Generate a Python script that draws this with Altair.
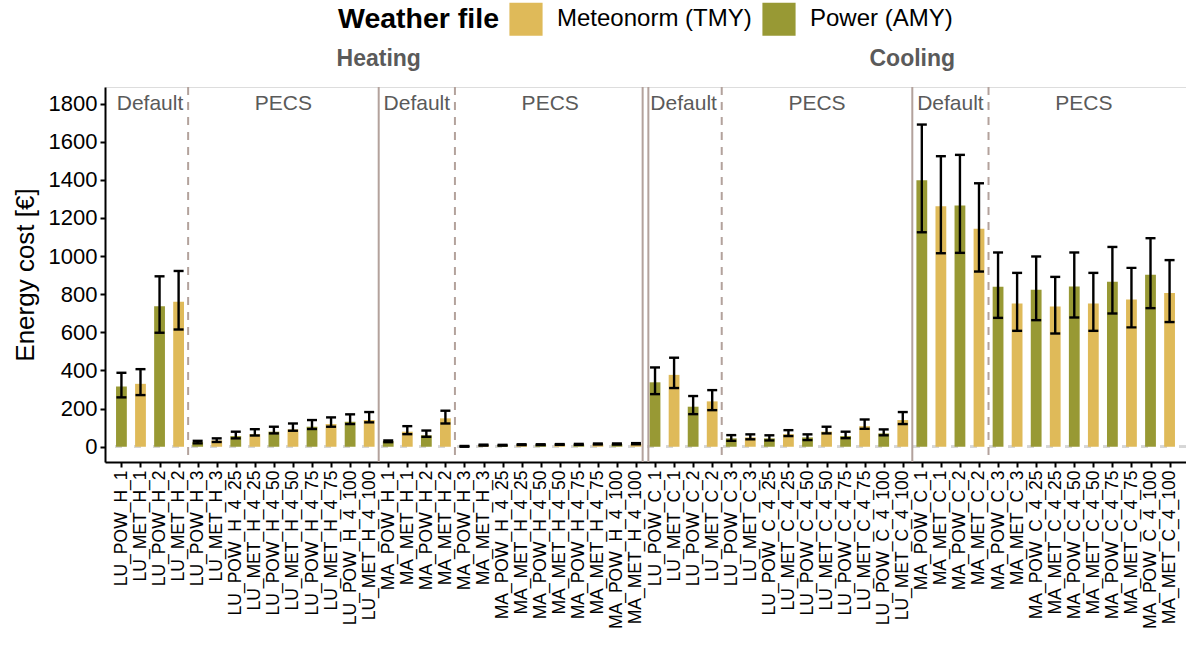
import altair as alt
import pandas as pd

# ---------------- data ----------------
categories = [
    "LU_POW_H_1", "LU_MET_H_1", "LU_POW_H_2", "LU_MET_H_2", "LU_POW_H_3", "LU_MET_H_3",
    "LU_POW_H_4_25", "LU_MET_H_4_25", "LU_POW_H_4_50", "LU_MET_H_4_50",
    "LU_POW_H_4_75", "LU_MET_H_4_75", "LU_POW_H_4_100", "LU_MET_H_4_100",
    "MA_POW_H_1", "MA_MET_H_1", "MA_POW_H_2", "MA_MET_H_2", "MA_POW_H_3", "MA_MET_H_3",
    "MA_POW_H_4_25", "MA_MET_H_4_25", "MA_POW_H_4_50", "MA_MET_H_4_50",
    "MA_POW_H_4_75", "MA_MET_H_4_75", "MA_POW_H_4_100", "MA_MET_H_4_100",
    "LU_POW_C_1", "LU_MET_C_1", "LU_POW_C_2", "LU_MET_C_2", "LU_POW_C_3", "LU_MET_C_3",
    "LU_POW_C_4_25", "LU_MET_C_4_25", "LU_POW_C_4_50", "LU_MET_C_4_50",
    "LU_POW_C_4_75", "LU_MET_C_4_75", "LU_POW_C_4_100", "LU_MET_C_4_100",
    "MA_POW_C_1", "MA_MET_C_1", "MA_POW_C_2", "MA_MET_C_2", "MA_POW_C_3", "MA_MET_C_3",
    "MA_POW_C_4_25", "MA_MET_C_4_25", "MA_POW_C_4_50", "MA_MET_C_4_50",
    "MA_POW_C_4_75", "MA_MET_C_4_75", "MA_POW_C_4_100", "MA_MET_C_4_100",
]

mean_cost = [
    316, 330, 737, 760, 24, 33, 56, 66, 79, 91, 105, 119, 131, 140,
    28, 79, 60, 149, 2, 8, 8, 11, 11, 12, 12, 14, 14, 16,
    338, 377, 210, 238, 44, 49, 44, 66, 49, 79, 56, 108, 70, 140,
    1398, 1262, 1265, 1143, 839, 752, 823, 736, 841, 752, 865, 773, 902, 807,
]
lower = [
    259, 271, 598, 615, 18, 25, 44, 59, 70, 84, 93, 105, 119, 128,
    24, 66, 52, 122, 0, 6, 6, 9, 9, 10, 10, 12, 12, 13,
    276, 308, 171, 192, 31, 39, 33, 56, 35, 70, 45, 94, 60, 119,
    1125, 1015, 1017, 919, 676, 608, 664, 594, 678, 608, 699, 626, 727, 654,
]
upper = [
    388, 407, 894, 922, 31, 44, 79, 92, 105, 122, 140, 154, 170, 182,
    33, 108, 85, 189, 4, 11, 10, 13, 13, 14, 15, 17, 17, 19,
    416, 467, 266, 297, 61, 65, 60, 87, 65, 105, 79, 143, 91, 182,
    1690, 1524, 1531, 1382, 1019, 912, 998, 891, 1019, 912, 1048, 938, 1094, 979,
]

weather_names = {"MET": "Meteonorm (TMY)", "POW": "Power (AMY)"}
season_names = {"H": "Heating", "C": "Cooling"}
weather_colors = ["#DFBA59", "#989934"]

# ---------------- derived tables ----------------
df = pd.DataFrame({"category": categories, "cost": mean_cost, "lo": lower, "hi": upper})
df["idx"] = range(1, len(df) + 1)
parts = df["category"].str.split("_")
df["site"] = parts.str[0]
df["weather"] = parts.str[1].map(weather_names)
df["season"] = parts.str[2].map(season_names)
df["group"] = parts.str[3].map(lambda c: "Default" if c in ("1", "2") else "PECS")
df["block"] = df["site"] + "_" + df["season"]

grp = (df.groupby(["block", "group"], sort=False)["idx"]
         .agg(["min", "max", "mean"]).reset_index())
group_labels = grp.rename(columns={"mean": "xpos"})[["group", "xpos"]]

blk = df.groupby("block", sort=False)["idx"].agg(["min", "max"]).reset_index()
season_blk = df.groupby("season", sort=False)["idx"].agg(["min", "max", "mean"]).reset_index()
season_labels = season_blk.rename(columns={"mean": "xpos"})[["season", "xpos"]]

# dashed lines: between Default and PECS of each block
dashed_pos = pd.DataFrame({"pos": grp[grp["group"] == "Default"]["max"] + 0.5})
# solid lines: between site blocks within a season; double line between seasons
season_edges = list(season_blk["max"].iloc[:-1] + 0.5)
solid = []
for _, r in blk.iloc[:-1].iterrows():
    edge = r["max"] + 0.5
    if edge in season_edges:
        solid += [edge - 0.15, edge + 0.15]
    else:
        solid.append(edge)
solid_pos = pd.DataFrame({"pos": solid})

n = len(categories)
label_expr = "[" + ",".join("'" + c + "'" for c in categories) + "][datum.value - 1]"

FONT = "Liberation Sans"
YTITLE = "Energy cost [€]"
xscale = alt.Scale(domain=[0.4, n + 0.6], nice=False, zero=False)
yscale = alt.Scale(domain=[-80, 1887], nice=False, zero=False)

x_axis = alt.Axis(values=list(range(1, n + 1)), labelExpr=label_expr, labelAngle=-90,
                  labelFontSize=17.5, labelColor="black", labelFont=FONT, labelPadding=3,
                  tickSize=5, tickWidth=2, tickColor="black", domainColor="black",
                  domainWidth=2, grid=False, title=None, labelOverlap=False, labelLimit=0)
y_axis = alt.Axis(values=list(range(0, 1801, 200)), format="d", title=YTITLE,
                  titleFontSize=26, titleFontWeight="normal", titleFont=FONT,
                  titleColor="black", titlePadding=10,
                  labelFontSize=22, labelColor="black", labelFont=FONT, labelPadding=3,
                  tickSize=5, tickWidth=2, tickColor="black", domainColor="black",
                  domainWidth=2, grid=False)


def X(field):
    return alt.X(field, scale=xscale, axis=x_axis, title=None)


def Y(field):
    return alt.Y(field, scale=yscale, axis=y_axis, title=YTITLE)


base = alt.Chart(df)

zero_line = base.mark_rule(color="#d6d6d6", strokeWidth=2, strokeDash=[7, 12]).encode(
    y=alt.YDatum(0, scale=yscale, axis=y_axis, title=YTITLE)
)

solid_lines = alt.Chart(solid_pos).mark_rule(color="#b3a29c", strokeWidth=2).encode(
    x=X("pos:Q")
)
dashed_lines = alt.Chart(dashed_pos).mark_rule(color="#b3a29c", strokeWidth=2,
                                               strokeDash=[8, 7]).encode(
    x=X("pos:Q")
)

bars = base.mark_bar(width=10.8).encode(
    x=X("idx:Q"),
    y=Y("cost:Q"),
    color=alt.Color("weather:N",
                    scale=alt.Scale(domain=list(weather_names.values()),
                                    range=weather_colors),
                    legend=alt.Legend(orient="none", legendX=233, legendY=-85,
                                      direction="horizontal", titleOrient="left",
                                      title="Weather file", titleFontSize=28.5,
                                      titleFontWeight="bold", titleFont=FONT,
                                      titleColor="black", titlePadding=9,
                                      labelFontSize=24, labelFont=FONT, labelColor="black",
                                      labelOffset=14, columnPadding=10, labelLimit=0,
                                      symbolType="square", symbolSize=1100,
                                      symbolStrokeWidth=0, symbolOpacity=1)),
)

err = base.mark_rule(color="black", strokeWidth=2.4).encode(
    x=X("idx:Q"),
    y=Y("lo:Q"),
    y2="hi:Q",
)
cap_lo = base.mark_tick(color="black", orient="horizontal", size=10, thickness=2.4,
                        opacity=1).encode(
    x=X("idx:Q"),
    y=Y("lo:Q"),
)
cap_hi = base.mark_tick(color="black", orient="horizontal", size=10, thickness=2.4,
                        opacity=1).encode(
    x=X("idx:Q"),
    y=Y("hi:Q"),
)

group_text = alt.Chart(group_labels).mark_text(fontSize=21, color="#5a5a5a",
                                               font=FONT, baseline="middle").encode(
    x=X("xpos:Q"),
    y=alt.YDatum(1800, scale=yscale, axis=y_axis, title=YTITLE),
    text="group:N",
)
season_text = alt.Chart(season_labels).mark_text(fontSize=23, color="#5a5a5a", font=FONT,
                                                 fontWeight="bold",
                                                 baseline="middle").encode(
    x=X("xpos:Q"),
    y=alt.value(-28),
    text="season:N",
)

chart = alt.layer(
    zero_line, solid_lines, dashed_lines, bars, err, cap_lo, cap_hi, group_text, season_text
).properties(
    width=1081, height=375,
    autosize=alt.AutoSizeParams(type="none"),
    padding={"left": 105, "top": 87, "right": 0, "bottom": 186},
).configure_view(strokeWidth=0, stroke="transparent").configure(font=FONT)

chart.save("out.html", embed_options={"renderer": "svg", "actions": False})
